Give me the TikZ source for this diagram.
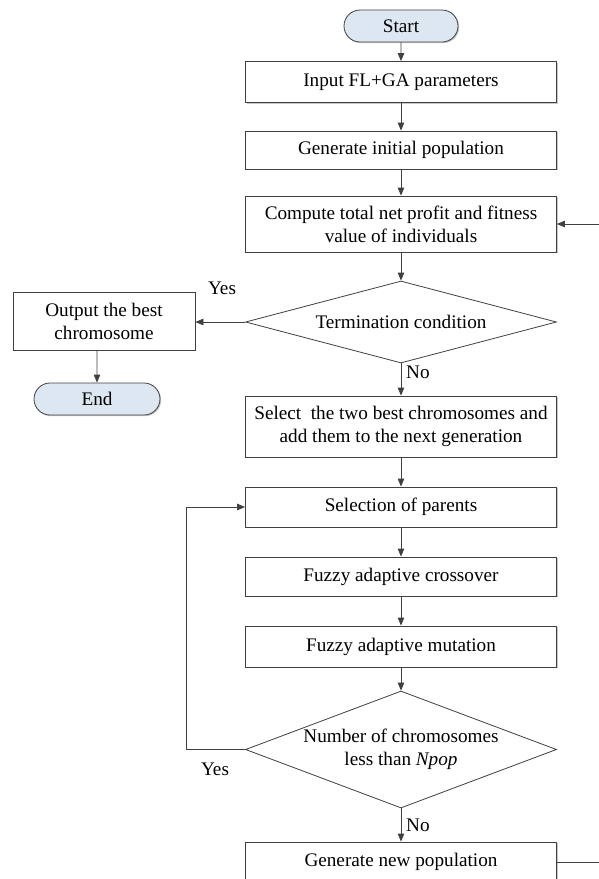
\documentclass[tikz,border=0pt]{standalone}
\usepackage{fontspec}
\setmainfont{Liberation Serif}
\usetikzlibrary{arrows.meta,shapes.geometric,shapes.misc,shadows}
\definecolor{ln}{HTML}{404040}
\definecolor{pillfill}{HTML}{DDE7F1}
\begin{document}
\begin{tikzpicture}[x=1pt,y=-1pt,
  every node/.style={font=\fontsize{19.2}{23}\selectfont, text=black},
  softshadow/.style={drop shadow={shadow xshift=1.2pt,shadow yshift=-1.2pt,opacity=0.22,fill=black}},
  box/.style={draw=ln, fill=white, line width=0.8pt, minimum width=311pt,
              align=center, inner sep=1pt, softshadow},
  pill/.style={rounded rectangle, draw=ln, fill=pillfill, line width=0.8pt,
               minimum height=32pt, inner sep=2pt, softshadow},
  decision/.style={diamond, draw=ln, fill=white, line width=0.8pt, inner sep=0pt,
                   shape aspect=1, minimum width=311pt},
  arr/.style={draw=ln, line width=0.8pt, -{Triangle[length=8pt,width=6.5pt]}},
  lbl/.style={inner sep=1pt}
]
\useasboundingbox (0,0) rectangle (599,879);

% main column
\node[pill, minimum width=118pt] (start) at (401,26) {Start};
\node[box, minimum height=41pt] (input) at (401,82) {Input FL+GA parameters};
\node[box, minimum height=38pt] (init) at (401,150) {Generate initial population};
\node[box, minimum height=56pt] (compute) at (401,224) {Compute total net profit and fitness\\value of individuals};
\node[decision, minimum height=82pt] (term) at (401,322) {};
\node (termtext) at (term.center) {Termination condition};
\node[box, minimum height=61pt] (select) at (401,426.5) {Select\ \ the two best chromosomes and\\add them to the next generation};
\node[box, minimum height=40pt] (parents) at (401,507) {Selection of parents};
\node[box, minimum height=39pt] (cross) at (401,576.5) {Fuzzy adaptive crossover};
\node[box, minimum height=41pt] (mut) at (401,646.5) {Fuzzy adaptive mutation};
\node[decision, minimum height=117pt] (npop) at (401,749.5) {};
\node[align=center] (npoptext) at (npop.center) {Number of chromosomes\\less than \textit{Npop}};
\node[box, minimum height=40pt] (newpop) at (401,862) {Generate new population};

% exit branch
\node[box, minimum width=182pt, minimum height=58pt] (output) at (104,321) {Output the best\\chromosome};
\node[pill, minimum width=130pt] (end) at (97,399) {End};

% loop corners
\coordinate (loopleft) at (186,749.5);
\coordinate (backright) at (602,862);

% connectors
\draw[arr] (start) -- (input);
\draw[arr] (input) -- (init);
\draw[arr] (init) -- (compute);
\draw[arr] (compute) -- (term);
\draw[arr] (term.west) -- (term.west -| output.east);
\draw[arr] (end.north |- output.south) -- (end);
\draw[arr] (term.south) -- (select);
\draw[arr] (select) -- (parents);
\draw[arr] (parents) -- (cross);
\draw[arr] (cross) -- (mut);
\draw[arr] (mut) -- (npop);
\draw[arr] (npop.south) -- (newpop);
\draw[arr] (npop.west) -- (loopleft) |- (parents.west);
\draw[arr] (newpop.east) -- (backright) |- (compute.east);

% branch labels
\node[lbl] (yes1) at (222,288) {Yes};
\node[lbl, anchor=west] (no1) at (405,372) {No};
\node[lbl] (yes2) at (215,769) {Yes};
\node[lbl, anchor=west] (no2) at (405,825) {No};
\end{tikzpicture}
\end{document}
